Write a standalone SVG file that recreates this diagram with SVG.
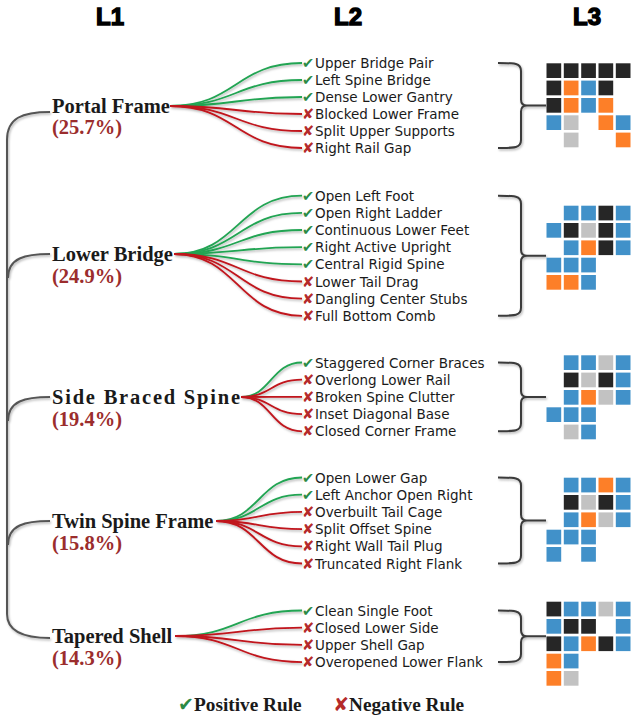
<svg xmlns="http://www.w3.org/2000/svg" width="639" height="720" viewBox="0 0 639 720">
<style>
.hd{font-family:"Liberation Sans",Arial,sans-serif;font-weight:bold;font-size:24px;fill:#000;stroke:#000;stroke-width:1.4;text-anchor:middle}
.l1{font-family:"Liberation Serif","Times New Roman",serif;font-weight:bold;font-size:20.5px;fill:#1a1a1a}
.pc{font-family:"Liberation Serif","Times New Roman",serif;font-weight:bold;font-size:20.5px;fill:#9b2d2d}
.it{font-family:"DejaVu Sans",sans-serif;font-size:13.5px;fill:#1a1a1a}
.ck{font-family:"DejaVu Sans",sans-serif;font-size:14.5px;fill:#2b8a45}
.cx{font-family:"DejaVu Sans",sans-serif;font-size:14.5px;fill:#b52a2a}
.lg{font-family:"Liberation Serif","Times New Roman",serif;font-weight:bold;font-size:19.3px;fill:#1a1a1a}
.pos{fill:none;stroke:#21a452;stroke-width:1.8}
.neg{fill:none;stroke:#c0141c;stroke-width:1.8}
.tr{fill:none;stroke:#555;stroke-width:2}
.br{fill:none;stroke:#3a3a3a;stroke-width:2}
.k{fill:#262626}.o{fill:#fd7f28}.b{fill:#4191c9}.g{fill:#c2c2c2}
</style>
<defs>
<filter id="sh" x="-5%" y="-5%" width="110%" height="115%">
<feDropShadow dx="1" dy="1.5" stdDeviation="0.8" flood-color="#000" flood-opacity="0.3"/>
</filter>
<symbol id="c" overflow="visible"><rect width="14.7" height="14.7"/></symbol>
</defs>

<g id="headers">
<text class="hd" x="110" y="25">L1</text>
<text class="hd" x="348" y="25">L2</text>
<text class="hd" x="587" y="25">L3</text>
</g>

<g id="connectors" filter="url(#sh)">
<path class="tr" d="M50,112 C22,112 7,118 7,140 L7,614 C7,630 22,638 50,638"/>
<path class="tr" d="M50,254 C25,254 8,258 8,278"/>
<path class="tr" d="M50,397 C25,397 8,401 8,421"/>
<path class="tr" d="M50,521 C25,521 8,525 8,545"/>
<path class="pos" d="M170,106 C236,106 236,63 302,63"/>
<path class="pos" d="M170,106 C236,106 236,80 302,80"/>
<path class="pos" d="M170,106 C236,106 236,97 302,97"/>
<path class="neg" d="M170,106 C236,106 236,114 302,114"/>
<path class="neg" d="M170,106 C236,106 236,131 302,131"/>
<path class="neg" d="M170,106 C236,106 236,148 302,148"/>
<path class="pos" d="M174,254 C238,254 238,195.7 302,195.7"/>
<path class="pos" d="M174,254 C238,254 238,212.9 302,212.9"/>
<path class="pos" d="M174,254 C238,254 238,230 302,230"/>
<path class="pos" d="M174,254 C238,254 238,247.2 302,247.2"/>
<path class="pos" d="M174,254 C238,254 238,264.3 302,264.3"/>
<path class="neg" d="M174,254 C238,254 238,281.5 302,281.5"/>
<path class="neg" d="M174,254 C238,254 238,298.6 302,298.6"/>
<path class="neg" d="M174,254 C238,254 238,315.8 302,315.8"/>
<path class="pos" d="M241,397 C271,397 271,362.5 302,362.5"/>
<path class="neg" d="M241,397 C271,397 271,379.7 302,379.7"/>
<path class="neg" d="M241,397 C271,397 271,396.9 302,396.9"/>
<path class="neg" d="M241,397 C271,397 271,414.1 302,414.1"/>
<path class="neg" d="M241,397 C271,397 271,431.3 302,431.3"/>
<path class="pos" d="M216,521 C259,521 259,477.5 302,477.5"/>
<path class="pos" d="M216,521 C259,521 259,494.7 302,494.7"/>
<path class="neg" d="M216,521 C259,521 259,511.9 302,511.9"/>
<path class="neg" d="M216,521 C259,521 259,529.1 302,529.1"/>
<path class="neg" d="M216,521 C259,521 259,546.3 302,546.3"/>
<path class="neg" d="M216,521 C259,521 259,563.5 302,563.5"/>
<path class="pos" d="M175,636 C238,636 238,610.5 302,610.5"/>
<path class="neg" d="M175,636 C238,636 238,627.7 302,627.7"/>
<path class="neg" d="M175,636 C238,636 238,644.9 302,644.9"/>
<path class="neg" d="M175,636 C238,636 238,662.1 302,662.1"/>
<path class="br" d="M498,63 C515,63 521,63 521,71 L521,99.5 C521,103.5 523,105.5 527,105.5 C523,105.5 521,107.5 521,111.5 L521,140 C521,148 515,148 498,148 M527,105.5 L546,105.5"/>
<path class="br" d="M498,195.7 C515,195.7 521,195.7 521,203.7 L521,249.8 C521,253.8 523,255.8 527,255.8 C523,255.8 521,257.8 521,261.8 L521,307.8 C521,315.8 515,315.8 498,315.8 M527,255.8 L546,255.8"/>
<path class="br" d="M498,362.5 C515,362.5 521,362.5 521,370.5 L521,390.9 C521,394.9 523,396.9 527,396.9 C523,396.9 521,398.9 521,402.9 L521,423.3 C521,431.3 515,431.3 498,431.3 M527,396.9 L546,396.9"/>
<path class="br" d="M498,477.5 C515,477.5 521,477.5 521,485.5 L521,514.5 C521,518.5 523,520.5 527,520.5 C523,520.5 521,522.5 521,526.5 L521,555.5 C521,563.5 515,563.5 498,563.5 M527,520.5 L546,520.5"/>
<path class="br" d="M498,610.5 C515,610.5 521,610.5 521,618.5 L521,630.3 C521,634.3 523,636.3 527,636.3 C523,636.3 521,638.3 521,642.3 L521,654.1 C521,662.1 515,662.1 498,662.1 M527,636.3 L546,636.3"/>
</g>

<g id="node-portal-frame">
<text class="l1" x="52" y="113">Portal Frame</text>
<text class="pc" x="52" y="134">(25.7%)</text>
</g>
<g id="node-lower-bridge">
<text class="l1" x="52" y="261">Lower Bridge</text>
<text class="pc" x="52" y="283">(24.9%)</text>
</g>
<g id="node-side-braced-spine">
<text class="l1" x="52" y="404" textLength="188" lengthAdjust="spacing">Side Braced Spine</text>
<text class="pc" x="52" y="426">(19.4%)</text>
</g>
<g id="node-twin-spine-frame">
<text class="l1" x="52" y="528">Twin Spine Frame</text>
<text class="pc" x="52" y="550">(15.8%)</text>
</g>
<g id="node-tapered-shell">
<text class="l1" x="52" y="643">Tapered Shell</text>
<text class="pc" x="52" y="665">(14.3%)</text>
</g>

<g id="rules-portal-frame">
<text class="ck" x="302" y="68">✔</text><text class="it" x="315" y="68">Upper Bridge Pair</text>
<text class="ck" x="302" y="85">✔</text><text class="it" x="315" y="85">Left Spine Bridge</text>
<text class="ck" x="302" y="102">✔</text><text class="it" x="315" y="102">Dense Lower Gantry</text>
<text class="cx" x="302" y="119">✘</text><text class="it" x="315" y="119">Blocked Lower Frame</text>
<text class="cx" x="302" y="136">✘</text><text class="it" x="315" y="136">Split Upper Supports</text>
<text class="cx" x="302" y="153">✘</text><text class="it" x="315" y="153">Right Rail Gap</text>
</g>
<g id="rules-lower-bridge">
<text class="ck" x="302" y="200.7">✔</text><text class="it" x="315" y="200.7">Open Left Foot</text>
<text class="ck" x="302" y="217.9">✔</text><text class="it" x="315" y="217.9">Open Right Ladder</text>
<text class="ck" x="302" y="235">✔</text><text class="it" x="315" y="235">Continuous Lower Feet</text>
<text class="ck" x="302" y="252.2">✔</text><text class="it" x="315" y="252.2">Right Active Upright</text>
<text class="ck" x="302" y="269.3">✔</text><text class="it" x="315" y="269.3">Central Rigid Spine</text>
<text class="cx" x="302" y="286.5">✘</text><text class="it" x="315" y="286.5">Lower Tail Drag</text>
<text class="cx" x="302" y="303.6">✘</text><text class="it" x="315" y="303.6">Dangling Center Stubs</text>
<text class="cx" x="302" y="320.8">✘</text><text class="it" x="315" y="320.8">Full Bottom Comb</text>
</g>
<g id="rules-side-braced-spine">
<text class="ck" x="302" y="367.5">✔</text><text class="it" x="315" y="367.5">Staggered Corner Braces</text>
<text class="cx" x="302" y="384.7">✘</text><text class="it" x="315" y="384.7">Overlong Lower Rail</text>
<text class="cx" x="302" y="401.9">✘</text><text class="it" x="315" y="401.9">Broken Spine Clutter</text>
<text class="cx" x="302" y="419.1">✘</text><text class="it" x="315" y="419.1">Inset Diagonal Base</text>
<text class="cx" x="302" y="436.3">✘</text><text class="it" x="315" y="436.3">Closed Corner Frame</text>
</g>
<g id="rules-twin-spine-frame">
<text class="ck" x="302" y="482.5">✔</text><text class="it" x="315" y="482.5">Open Lower Gap</text>
<text class="ck" x="302" y="499.7">✔</text><text class="it" x="315" y="499.7">Left Anchor Open Right</text>
<text class="cx" x="302" y="516.9">✘</text><text class="it" x="315" y="516.9">Overbuilt Tail Cage</text>
<text class="cx" x="302" y="534.1">✘</text><text class="it" x="315" y="534.1">Split Offset Spine</text>
<text class="cx" x="302" y="551.3">✘</text><text class="it" x="315" y="551.3">Right Wall Tail Plug</text>
<text class="cx" x="302" y="568.5">✘</text><text class="it" x="315" y="568.5">Truncated Right Flank</text>
</g>
<g id="rules-tapered-shell">
<text class="ck" x="302" y="615.5">✔</text><text class="it" x="315" y="615.5">Clean Single Foot</text>
<text class="cx" x="302" y="632.7">✘</text><text class="it" x="315" y="632.7">Closed Lower Side</text>
<text class="cx" x="302" y="649.9">✘</text><text class="it" x="315" y="649.9">Upper Shell Gap</text>
<text class="cx" x="302" y="667.1">✘</text><text class="it" x="315" y="667.1">Overopened Lower Flank</text>
</g>

<g id="grid-portal-frame">
<use href="#c" class="k" x="546.5" y="63.3"/><use href="#c" class="k" x="563.8" y="63.3"/><use href="#c" class="k" x="581.2" y="63.3"/><use href="#c" class="k" x="598.5" y="63.3"/><use href="#c" class="k" x="615.8" y="63.3"/>
<use href="#c" class="k" x="546.5" y="80.6"/><use href="#c" class="o" x="563.8" y="80.6"/><use href="#c" class="b" x="581.2" y="80.6"/><use href="#c" class="k" x="598.5" y="80.6"/>
<use href="#c" class="k" x="546.5" y="98"/><use href="#c" class="o" x="563.8" y="98"/><use href="#c" class="b" x="581.2" y="98"/><use href="#c" class="o" x="598.5" y="98"/>
<use href="#c" class="b" x="546.5" y="115.3"/><use href="#c" class="g" x="563.8" y="115.3"/><use href="#c" class="o" x="598.5" y="115.3"/><use href="#c" class="b" x="615.8" y="115.3"/>
<use href="#c" class="g" x="563.8" y="132.6"/><use href="#c" class="o" x="615.8" y="132.6"/>
</g>
<g id="grid-lower-bridge">
<use href="#c" class="b" x="563.8" y="205.7"/><use href="#c" class="b" x="581.2" y="205.7"/><use href="#c" class="k" x="598.5" y="205.7"/><use href="#c" class="b" x="615.8" y="205.7"/>
<use href="#c" class="b" x="546.5" y="223"/><use href="#c" class="k" x="563.8" y="223"/><use href="#c" class="g" x="581.2" y="223"/><use href="#c" class="k" x="598.5" y="223"/><use href="#c" class="b" x="615.8" y="223"/>
<use href="#c" class="b" x="563.8" y="240.4"/><use href="#c" class="o" x="581.2" y="240.4"/><use href="#c" class="k" x="598.5" y="240.4"/><use href="#c" class="b" x="615.8" y="240.4"/>
<use href="#c" class="b" x="546.5" y="257.7"/><use href="#c" class="b" x="563.8" y="257.7"/><use href="#c" class="b" x="581.2" y="257.7"/>
<use href="#c" class="o" x="546.5" y="275"/><use href="#c" class="o" x="563.8" y="275"/><use href="#c" class="b" x="581.2" y="275"/>
</g>
<g id="grid-side-braced-spine">
<use href="#c" class="b" x="563.8" y="355.3"/><use href="#c" class="b" x="581.2" y="355.3"/><use href="#c" class="g" x="598.5" y="355.3"/><use href="#c" class="b" x="615.8" y="355.3"/>
<use href="#c" class="k" x="563.8" y="372.6"/><use href="#c" class="g" x="581.2" y="372.6"/><use href="#c" class="k" x="598.5" y="372.6"/><use href="#c" class="b" x="615.8" y="372.6"/>
<use href="#c" class="b" x="563.8" y="390"/><use href="#c" class="o" x="581.2" y="390"/><use href="#c" class="g" x="598.5" y="390"/><use href="#c" class="b" x="615.8" y="390"/>
<use href="#c" class="b" x="546.5" y="407.3"/><use href="#c" class="b" x="563.8" y="407.3"/><use href="#c" class="b" x="581.2" y="407.3"/>
<use href="#c" class="g" x="563.8" y="424.6"/><use href="#c" class="b" x="581.2" y="424.6"/>
</g>
<g id="grid-twin-spine-frame">
<use href="#c" class="b" x="563.8" y="477.7"/><use href="#c" class="b" x="581.2" y="477.7"/><use href="#c" class="o" x="598.5" y="477.7"/><use href="#c" class="b" x="615.8" y="477.7"/>
<use href="#c" class="k" x="563.8" y="495"/><use href="#c" class="g" x="581.2" y="495"/><use href="#c" class="k" x="598.5" y="495"/><use href="#c" class="b" x="615.8" y="495"/>
<use href="#c" class="b" x="563.8" y="512.4"/><use href="#c" class="o" x="581.2" y="512.4"/><use href="#c" class="g" x="598.5" y="512.4"/><use href="#c" class="b" x="615.8" y="512.4"/>
<use href="#c" class="b" x="546.5" y="529.7"/><use href="#c" class="b" x="563.8" y="529.7"/><use href="#c" class="b" x="581.2" y="529.7"/>
<use href="#c" class="b" x="546.5" y="547"/><use href="#c" class="b" x="581.2" y="547"/>
</g>
<g id="grid-tapered-shell">
<use href="#c" class="k" x="546.5" y="601.7"/><use href="#c" class="b" x="563.8" y="601.7"/><use href="#c" class="b" x="581.2" y="601.7"/><use href="#c" class="g" x="598.5" y="601.7"/><use href="#c" class="b" x="615.8" y="601.7"/>
<use href="#c" class="b" x="546.5" y="619"/><use href="#c" class="k" x="563.8" y="619"/><use href="#c" class="k" x="581.2" y="619"/><use href="#c" class="b" x="615.8" y="619"/>
<use href="#c" class="k" x="546.5" y="636.4"/><use href="#c" class="b" x="563.8" y="636.4"/><use href="#c" class="o" x="581.2" y="636.4"/><use href="#c" class="k" x="598.5" y="636.4"/><use href="#c" class="b" x="615.8" y="636.4"/>
<use href="#c" class="o" x="546.5" y="653.7"/><use href="#c" class="b" x="563.8" y="653.7"/>
<use href="#c" class="o" x="546.5" y="671"/><use href="#c" class="g" x="563.8" y="671"/>
</g>

<g id="legend">
<text class="ck" x="178" y="711" style="font-size:19px">✔</text><text class="lg" x="194" y="711">Positive Rule</text>
<text class="cx" x="333" y="711" style="font-size:19px">✘</text><text class="lg" x="349" y="711">Negative Rule</text>
</g>
</svg>
